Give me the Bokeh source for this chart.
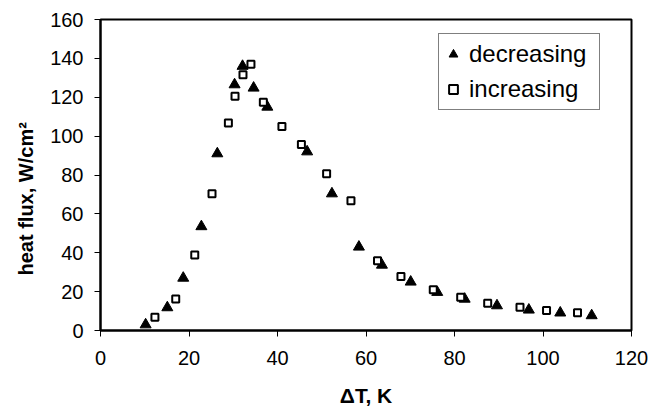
from bokeh.plotting import figure
from bokeh.models import ColumnDataSource, Range1d, Legend, LegendItem, FixedTicker, Title
from bokeh.embed import file_html
from bokeh.resources import INLINE

# decreasing series (triangles)
dec_dT = [10.2, 15.1, 18.7, 22.8, 26.4, 30.3, 32.1, 34.6, 37.7, 46.7, 52.3, 58.4, 63.6,
          70.1, 76.1, 82.3, 89.6, 96.8, 103.9, 111.0]
dec_q = [3.0, 11.8, 27.0, 53.5, 91.0, 126.5, 136.0, 124.8, 115.0, 92.0, 70.4, 43.0, 33.7,
         25.0, 19.7, 16.2, 12.8, 10.6, 9.1, 7.7]

# increasing series (squares)
inc_dT = [12.3, 17.0, 21.3, 25.2, 28.9, 30.4, 32.2, 34.0, 36.8, 41.0, 45.4, 51.1, 56.6, 62.6,
          67.9, 75.2, 81.4, 87.5, 94.8, 100.8, 107.8]
inc_q = [6.8, 16.2, 38.8, 70.4, 106.7, 120.5, 131.6, 137.0, 117.4, 105.0, 95.7, 80.7, 66.7, 35.9,
         27.8, 21.0, 17.1, 14.0, 12.0, 10.3, 9.1]

x_ticks = [0, 20, 40, 60, 80, 100, 120]
y_ticks = [0, 20, 40, 60, 80, 100, 120, 140, 160]

x_title = "ΔT, K"
y_title = "heat flux, W/cm²"
series_labels = ["decreasing", "increasing"]

FONT = "Liberation Sans"

p = figure(width=664, height=412, output_backend="svg", toolbar_location=None,
           x_range=Range1d(0, 120), y_range=Range1d(0, 160),
           min_border_left=100, min_border_right=33, min_border_top=19, min_border_bottom=82)
p.background_fill_color = "white"
p.border_fill_color = "white"
p.outline_line_color = "black"
p.outline_line_width = 2
p.xgrid.visible = False
p.ygrid.visible = False

for ax, ticks in ((p.xaxis, x_ticks), (p.yaxis, y_ticks)):
    ax.ticker = FixedTicker(ticks=ticks)
    ax.axis_line_color = "black"
    ax.axis_line_width = 2
    ax.major_tick_line_color = "black"
    ax.major_tick_line_width = 1
    ax.major_tick_out = 6
    ax.major_tick_in = 0
    ax.minor_tick_line_color = None
    ax.major_label_text_font = FONT
    ax.major_label_text_font_size = "20px"
    ax.major_label_text_color = "black"
    ax.axis_label_text_font = FONT
    ax.axis_label_text_font_size = "21px"
    ax.axis_label_text_font_style = "bold"
    ax.axis_label_text_color = "black"

p.xaxis.axis_label = x_title
p.xaxis.major_label_standoff = 14
p.yaxis.major_label_standoff = 11
p.xaxis.axis_label_standoff = 16

# y-axis title as a side title (sits a bit below the frame centre, as in the reference)
p.add_layout(Title(text=y_title, align="left", offset=55, standoff=22,
                   text_font=FONT, text_font_size="20px", text_font_style="bold",
                   text_color="black"), "left")

dec_src = ColumnDataSource(dict(x=dec_dT, y=dec_q))
inc_src = ColumnDataSource(dict(x=inc_dT, y=inc_q))

r_dec = p.scatter("x", "y", source=dec_src, marker="triangle", size=11,
                  fill_color="black", line_color="black", line_width=1)
r_inc = p.scatter("x", "y", source=inc_src, marker="square", size=7,
                  fill_color="white", line_color="black", line_width=2)

legend = Legend(items=[LegendItem(label=series_labels[0], renderers=[r_dec]),
                       LegendItem(label=series_labels[1], renderers=[r_inc])],
                location=(338, 220))
legend.label_text_font = FONT
legend.label_text_font_size = "24px"
legend.label_text_color = "black"
legend.border_line_color = "black"
legend.border_line_width = 1
legend.background_fill_color = "white"
legend.background_fill_alpha = 1
legend.glyph_width = 22
legend.glyph_height = 34
legend.label_height = 34
legend.label_width = 127
legend.label_standoff = 5
legend.padding = 3
legend.spacing = 1
legend.margin = 0
p.add_layout(legend)

open("out.html", "w").write(file_html(p, INLINE))
